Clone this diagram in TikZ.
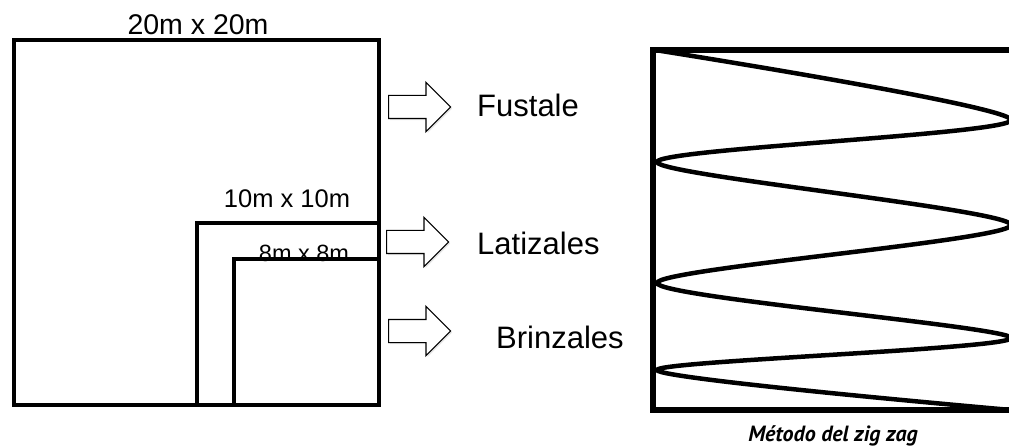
\documentclass[tikz,border=0pt]{standalone}
\usepackage{fontspec}
\setmainfont{Liberation Sans}
\newfontfamily\zigfont{PT Sans}
\usetikzlibrary{shapes.arrows, shadows}

\begin{document}
\begin{tikzpicture}[x=1pt, y=-1pt,
  parcela/.style={line width=4pt},
  flecha/.style={single arrow, draw, fill=white, line width=1.2pt,
    minimum height=62pt, minimum width=48pt, single arrow head extend=13pt,
    inner sep=0pt, text width=0pt, text height=11pt, text depth=11pt,
    drop shadow={shadow xshift=1.5pt, shadow yshift=-1.5pt, opacity=0.2}},
  medida/.style={inner sep=0pt, anchor=base},
  clase/.style={inner sep=0pt, anchor=base west, font=\fontsize{31}{33}\selectfont},
]
\useasboundingbox (0,0) rectangle (1009,446);

% ===== Left: nested plots =====
\node[medida, font=\fontsize{28.5}{30}\selectfont] (lab20) at (198,35) {20m x 20m};
\node[medida, font=\fontsize{25.5}{27}\selectfont] (lab10) at (287,208) {10m x 10m};
\node[medida, font=\fontsize{23.5}{25}\selectfont] (lab8) at (304,262) {8m x 8m};

\draw[parcela] (14,40.5) rectangle (379,405);
\draw[parcela] (197,223) rectangle (379,405);
\draw[parcela] (234,259.5) rectangle (379,405);

% arrows and classes
\node[flecha, anchor=tail] (flFust) at (388,107) {};
\node[flecha, anchor=tail] (flLat) at (386,242) {};
\node[flecha, anchor=tail] (flBrin) at (388,331) {};

\node[clase] (fustal) at (477,117) {Fustale};
\node[clase] (latizal) at (477,255) {Latizales};
\node[clase] (brinzal) at (496,348) {Brinzales};

% ===== Right: zig zag =====
\begin{scope}
  \clip (640,0) rectangle (1009,446);
  \draw[line width=6pt] (653,50) rectangle (1016,410);
  \draw[line width=4.5pt] plot[smooth, tension=0.45] coordinates
    {(655,50) (1011,120) (657,162) (1011,225) (657,283) (1011,338) (657,370) (1011,410)};
\end{scope}
\node[inner sep=0pt, anchor=base, font=\zigfont\bfseries\itshape\fontsize{22}{24}\selectfont] (metodo) at (833,441) {Método del zig zag};

\end{tikzpicture}
\end{document}
